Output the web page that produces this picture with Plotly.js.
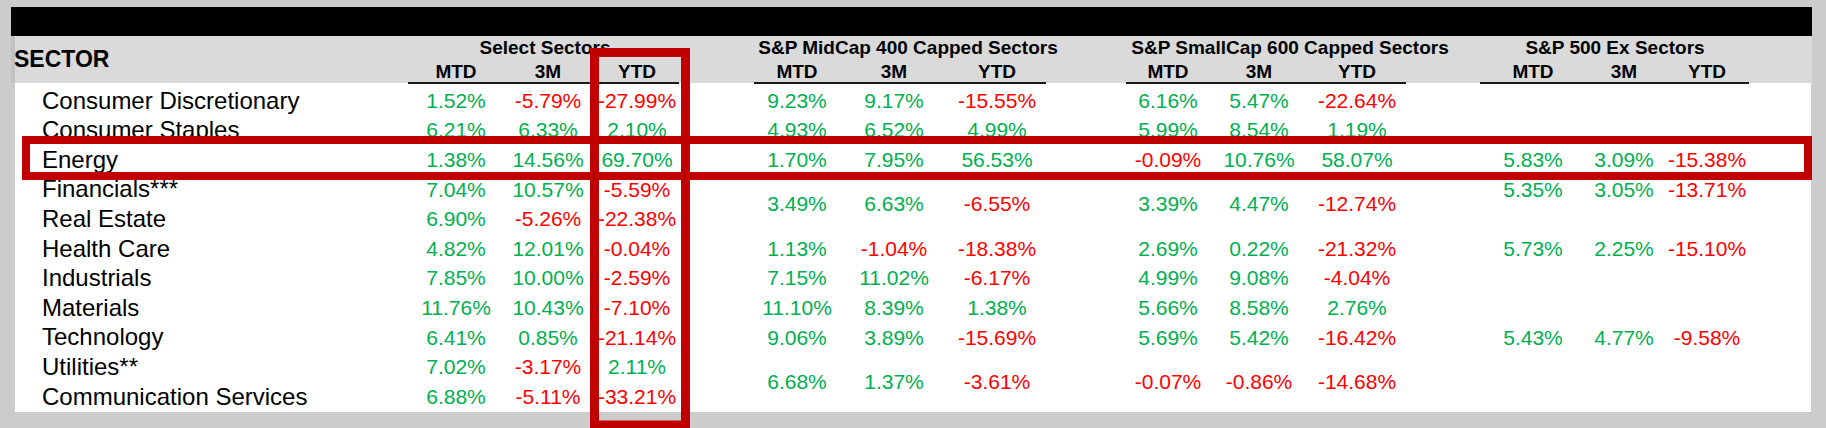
<!DOCTYPE html>
<html>
<head>
<meta charset="utf-8">
<script src="https://cdn.plot.ly/plotly-3.0.1.min.js"></script>
<style>html,body{margin:0;padding:0;background:#cccccc;}#chart{width:1826px;height:428px;}</style>
</head>
<body>
<div id="chart"></div>
<script>
// ---------------- DATA ----------------
const sectors = ["Consumer Discretionary","Consumer Staples","Energy","Financials***","Real Estate",
  "Health Care","Industrials","Materials","Technology","Utilities**","Communication Services"];
const groupTitles = ["Select Sectors","S&P MidCap 400 Capped Sectors","S&P SmallCap 600 Capped Sectors","S&P 500 Ex Sectors"];
const metrics = ["MTD","3M","YTD"];

// Select Sectors (one value per sector)
const selectMTD = [1.52, 6.21, 1.38, 7.04, 6.90, 4.82, 7.85, 11.76, 6.41, 7.02, 6.88];
const select3M  = [-5.79, 6.33, 14.56, 10.57, -5.26, 12.01, 10.00, 10.43, 0.85, -3.17, -5.11];
const selectYTD = [-27.99, 2.10, 69.70, -5.59, -22.38, -0.04, -2.59, -7.10, -21.14, 2.11, -33.21];

// Capped sector rows (some cells span two sectors)
const capRows = [["Consumer Discretionary"],["Consumer Staples"],["Energy"],["Financials***","Real Estate"],
  ["Health Care"],["Industrials"],["Materials"],["Technology"],["Utilities**","Communication Services"]];
const midMTD = [9.23, 4.93, 1.70, 3.49, 1.13, 7.15, 11.10, 9.06, 6.68];
const mid3M  = [9.17, 6.52, 7.95, 6.63, -1.04, 11.02, 8.39, 3.89, 1.37];
const midYTD = [-15.55, 4.99, 56.53, -6.55, -18.38, -6.17, 1.38, -15.69, -3.61];
const smallMTD = [6.16, 5.99, -0.09, 3.39, 2.69, 4.99, 5.66, 5.69, -0.07];
const small3M  = [5.47, 8.54, 10.76, 4.47, 0.22, 9.08, 8.58, 5.42, -0.86];
const smallYTD = [-22.64, 1.19, 58.07, -12.74, -21.32, -4.04, 2.76, -16.42, -14.68];

// S&P 500 Ex sectors
const exRows = ["Energy","Financials***","Health Care","Technology"];
const exMTD = [5.83, 5.35, 5.73, 5.43];
const ex3M  = [3.09, 3.05, 2.25, 4.77];
const exYTD = [-15.38, -13.71, -15.10, -9.58];

// ---------------- LAYOUT CONSTANTS ----------------
const W = 1826, H = 428;
const ROW0 = 102.5, ROWH = 29.6;
const LABEL_X = 42;
const colCenters = [[456, 548, 637],[797, 894, 997],[1168, 1259, 1357],[1533, 1624, 1707]];
const titleCenters = [545, 908, 1290, 1615];
const underline = [[408, 679],[754, 1046],[1126, 1406],[1480, 1749]];
const GREEN = "#00b050", RED = "#ff0000", BOX = "#c00000";
const FONT = "Liberation Sans, Arial, Helvetica, sans-serif";

const rowY = name => ROW0 + sectors.indexOf(name) * ROWH;
const spanY = names => names.reduce((s, n) => s + rowY(n), 0) / names.length;
const fmt = v => v.toFixed(2) + "%";
const col = v => (v < 0 ? RED : GREEN);

const traces = [];
function valueTrace(xc, ys, vals) {
  traces.push({
    type: "scatter", mode: "text", x: vals.map(() => xc), y: ys,
    text: vals.map(fmt), textposition: "middle center",
    textfont: {family: FONT, size: 21, color: vals.map(col)},
    hoverinfo: "skip", cliponaxis: false
  });
}

// sector labels
traces.push({
  type: "scatter", mode: "text", x: sectors.map(() => LABEL_X), y: sectors.map(rowY),
  text: sectors, textposition: "middle right",
  textfont: {family: FONT, size: 24, color: "#000"}, hoverinfo: "skip", cliponaxis: false
});

// values
const selYs = sectors.map(rowY);
[selectMTD, select3M, selectYTD].forEach((v, j) => valueTrace(colCenters[0][j], selYs, v));
const capYs = capRows.map(spanY);
[midMTD, mid3M, midYTD].forEach((v, j) => valueTrace(colCenters[1][j], capYs, v));
[smallMTD, small3M, smallYTD].forEach((v, j) => valueTrace(colCenters[2][j], capYs, v));
const exYs = exRows.map(rowY);
[exMTD, ex3M, exYTD].forEach((v, j) => valueTrace(colCenters[3][j], exYs, v));

// header texts
traces.push({
  type: "scatter", mode: "text", x: titleCenters, y: titleCenters.map(() => 49),
  text: groupTitles, textposition: "middle center",
  textfont: {family: FONT, size: 19, color: "#000", weight: "bold"}, hoverinfo: "skip", cliponaxis: false
});
const subX = [], subT = [];
colCenters.forEach(g => g.forEach((x, j) => { subX.push(x); subT.push(metrics[j]); }));
traces.push({
  type: "scatter", mode: "text", x: subX, y: subX.map(() => 73),
  text: subT, textposition: "middle center",
  textfont: {family: FONT, size: 19, color: "#000", weight: "bold"}, hoverinfo: "skip", cliponaxis: false
});
traces.push({
  type: "scatter", mode: "text", x: [14], y: [61], text: ["SECTOR"], textposition: "middle right",
  textfont: {family: FONT, size: 23, color: "#000", weight: "bold"}, hoverinfo: "skip", cliponaxis: false
});

// shapes
const shapes = [
  {type: "rect", layer: "below", x0: 11, x1: 1812, y0: 7, y1: 36, fillcolor: "#000", line: {width: 0}},
  {type: "rect", layer: "below", x0: 11, x1: 1812, y0: 36, y1: 83, fillcolor: "#dadada", line: {width: 0}},
  {type: "rect", layer: "below", x0: 11, x1: 15, y0: 36, y1: 83, fillcolor: "#c2c2c2", line: {width: 0}},
  {type: "rect", layer: "below", x0: 15, x1: 1811, y0: 83, y1: 412, fillcolor: "#ffffff", line: {width: 0}}
];
underline.forEach(u => shapes.push({type: "line", layer: "below", x0: u[0], x1: u[1], y0: 83, y1: 83,
  line: {color: "#1a1a1a", width: 2}}));
shapes.push({type: "rect", layer: "above", x0: 594.5, x1: 685.5, y0: 52.5, y1: 425, line: {color: BOX, width: 9}});
shapes.push({type: "rect", layer: "above", x0: 26, x1: 1808, y0: 140, y1: 176, line: {color: BOX, width: 8}});

const layout = {
  width: W, height: H, margin: {l: 0, r: 0, t: 0, b: 0, pad: 0},
  paper_bgcolor: "#cccccc", plot_bgcolor: "rgba(0,0,0,0)",
  xaxis: {range: [0, W], visible: false, fixedrange: true},
  yaxis: {range: [H, 0], visible: false, fixedrange: true},
  showlegend: false, hovermode: false, shapes: shapes
};
Plotly.newPlot("chart", traces, layout, {staticPlot: true, displayModeBar: false});
</script>
</body>
</html>
